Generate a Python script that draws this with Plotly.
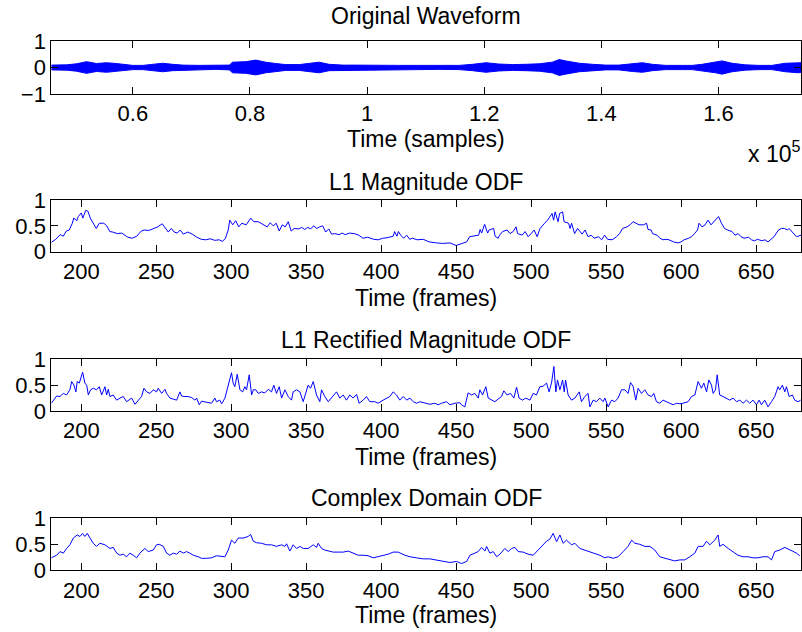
import plotly.graph_objects as go

# ---------------- data ----------------
# Waveform amplitude envelope (sample index, peak amplitude)
wave_pos = [46080, 48700, 50400, 52100, 53800, 55500, 57200, 58900, 60000, 61700,
            63400, 65100, 66800, 68500, 71300, 74200, 76500, 77000, 79300, 81000,
            82700, 84400, 86100, 88400, 90700, 91800, 93500, 95800, 98100, 100400,
            102700, 105500, 108900, 112300, 115700, 118000, 120300, 122500, 124800,
            127100, 129400, 131600, 132800, 133900, 136200, 138500, 140700, 143000,
            145300, 147000, 148700, 151000, 153800, 155500, 157200, 159500, 160600,
            162300, 164600, 166900, 169100, 171400, 173700, 174080]
wave_amp = [0.09, 0.10, 0.14, 0.22, 0.15, 0.18, 0.15, 0.10, 0.08, 0.08,
            0.12, 0.16, 0.12, 0.09, 0.08, 0.07, 0.09, 0.20, 0.22, 0.28,
            0.20, 0.15, 0.11, 0.11, 0.17, 0.20, 0.12, 0.09, 0.09, 0.08,
            0.08, 0.08, 0.08, 0.07, 0.08, 0.12, 0.18, 0.13, 0.11,
            0.12, 0.14, 0.20, 0.30, 0.25, 0.16, 0.12, 0.09, 0.09,
            0.15, 0.18, 0.12, 0.08, 0.08, 0.08, 0.12, 0.20, 0.25,
            0.16, 0.10, 0.08, 0.08, 0.16, 0.20, 0.18]

# L1 magnitude onset detection function
mag_frames = [180, 183, 186, 188, 190, 192, 194, 195, 197, 198, 200, 201, 203, 204.5, 206, 208, 210, 212,
              215, 217, 219, 221, 224, 227, 229, 231, 234, 237, 240, 242, 245, 248, 251, 254, 256, 258,
              260, 262, 264, 266, 268, 271, 274, 277, 280, 283, 286, 289, 292, 294, 296, 298, 299, 301,
              303, 305, 307, 310, 313, 315, 318, 322, 324, 326, 328, 330, 332, 334, 336, 338, 340, 342,
              345, 347, 349, 351, 353, 355, 357, 359, 361, 363, 365, 367, 369, 372, 374, 376, 379, 382,
              385, 388, 391, 395, 398, 401, 404, 408, 409, 410.5, 411.5,
              413, 415, 417, 419, 421, 424, 428, 432, 437, 441, 446, 450, 454, 457, 459, 462, 465, 466,
              467, 469, 471, 472, 475, 476, 478, 479, 481, 484, 486, 488, 490, 491, 494, 496, 498, 500,
              502, 504, 506, 509, 511, 514, 515, 516, 518, 519, 521, 522, 525, 526, 527, 529, 531, 534,
              536, 538, 540, 542, 545, 547, 549, 551, 554, 557, 559, 561, 564, 566, 568, 570, 572, 575,
              577, 578, 580, 581, 584, 586, 588, 590, 592, 595, 598, 600, 602, 605, 607, 609, 611, 612,
              614, 616, 618, 620, 622, 625, 627, 629, 631, 634, 636, 638, 640, 642, 645, 647, 649, 651,
              654, 656, 658, 660, 662, 665, 667, 669, 671, 672, 675, 677, 680]
mag_vals = [0.18, 0.24, 0.33, 0.30, 0.40, 0.42, 0.55, 0.65, 0.60, 0.68, 0.75, 0.65, 0.80, 0.78, 0.65, 0.55, 0.45, 0.55,
            0.55, 0.50, 0.39, 0.38, 0.35, 0.36, 0.32, 0.28, 0.26, 0.30, 0.40, 0.42, 0.41, 0.45, 0.48, 0.54, 0.46, 0.38,
            0.45, 0.38, 0.36, 0.42, 0.34, 0.38, 0.34, 0.28, 0.24, 0.23, 0.25, 0.22, 0.23, 0.20, 0.25, 0.42, 0.61, 0.52,
            0.60, 0.48, 0.55, 0.52, 0.65, 0.58, 0.58, 0.52, 0.48, 0.56, 0.50, 0.55, 0.40, 0.52, 0.48, 0.58, 0.40, 0.45,
            0.44, 0.47, 0.43, 0.47, 0.44, 0.50, 0.45, 0.48, 0.50, 0.38, 0.44, 0.34, 0.35, 0.33, 0.36, 0.33, 0.36, 0.35,
            0.32, 0.26, 0.28, 0.24, 0.23, 0.26, 0.27, 0.30, 0.39, 0.30, 0.39,
            0.32, 0.26, 0.32, 0.24, 0.26, 0.23, 0.24, 0.19, 0.17, 0.16, 0.17, 0.12, 0.16, 0.19, 0.29, 0.30, 0.32, 0.43,
            0.36, 0.53, 0.36, 0.42, 0.45, 0.30, 0.26, 0.32, 0.39, 0.42, 0.35, 0.39, 0.48, 0.35, 0.32, 0.39, 0.29, 0.35,
            0.42, 0.29, 0.45, 0.55, 0.61, 0.74, 0.61, 0.77, 0.58, 0.74, 0.77, 0.58, 0.55, 0.45, 0.55, 0.35, 0.45, 0.34,
            0.42, 0.29, 0.32, 0.26, 0.29, 0.23, 0.32, 0.24, 0.23, 0.29, 0.35, 0.45, 0.48, 0.52, 0.58, 0.55, 0.52, 0.52,
            0.55, 0.43, 0.42, 0.35, 0.32, 0.26, 0.23, 0.24, 0.23, 0.19, 0.17, 0.19, 0.23, 0.26, 0.29, 0.35, 0.42, 0.55,
            0.48, 0.52, 0.61, 0.52, 0.58, 0.68, 0.55, 0.45, 0.42, 0.39, 0.32, 0.35, 0.29, 0.26, 0.28, 0.23, 0.21, 0.24,
            0.21, 0.23, 0.19, 0.24, 0.29, 0.42, 0.45, 0.45, 0.42, 0.45, 0.35, 0.29, 0.32]

# L1 rectified magnitude onset detection function
rect_frames = [180, 181.8, 183.6, 185.8, 188, 190.2, 192.4, 193.6, 195.1, 196.4, 197.3, 198.7, 199.8, 200.9,
               202.4, 203.6, 204.7, 206.2, 208, 210.2, 212, 213.6, 215.8, 216.9, 218, 219.1, 221.3, 223.6,
               225.8, 228, 230.2, 232.4, 233.6, 235.8, 238, 240.2, 241.8, 243.6, 245.8, 248, 250.2, 251.3,
               253.6, 255.8, 256.9, 259.1, 261.3, 263.6, 265.8, 266.9, 269.1, 271.3, 273.6, 275.8, 276.9,
               278.7, 280.2, 282.4, 284.7, 286.9, 289.1, 290.2, 292.4, 293.6, 295.8, 298, 299.1, 300.2,
               301.3, 302.4, 304, 305.8, 307.6, 309.1, 310.2, 312, 313.6, 314.7, 316.4, 318, 320.2, 322.4,
               324.7, 326.9, 328.4, 330.2, 332, 333.6, 335.8, 338, 340.2, 341.3, 343.6, 345.8, 348, 349.8,
               351.3, 352.9, 354.7, 356.9, 359.1, 360.2, 362.4, 364.7, 366.9, 370.2, 372.4, 374.7, 376.9,
               379.1, 381.3, 383.6, 385.3, 388, 390.2, 392.4, 395.8, 398, 401.3, 403.6, 405.8, 408, 410.2,
               412.4, 414.7, 417, 419.2, 421.4, 423.6, 425.8, 429.2, 432.5, 435.8, 438, 440.3, 443.6, 445.8,
               449.2, 452.5, 453.6, 455.8, 458, 460.3, 462.5, 464.7, 465.8, 467.6, 469.8, 471.4, 473.6,
               475.8, 478, 480.3, 481.8, 484, 486.3, 488.5, 490.3, 492, 494.3, 496.5, 499.2, 501.4, 503.6,
               505.8, 508, 510.3, 512, 513.6, 515.2, 516.5, 517.6, 519.2, 521, 522.1, 523, 524.7, 527,
               529.2, 532.1, 533.6, 535.8, 538, 539.2, 541.4, 543.6, 545.8, 548, 549.2, 551.4, 553.6,
               555.8, 558, 560.3, 562.5, 564.7, 566.3, 568, 569.8, 571.4, 573.6, 575.8, 578, 580.3, 581.8,
               583.6, 585.8, 588, 590.3, 592.5, 594.7, 597, 599.2, 601.4, 604.7, 607, 609.2, 611.4, 613.6,
               615.2, 617, 618.5, 620.3, 621.4, 623, 624.1, 625.8, 628, 630.3, 632.5, 634.7, 637, 639.2,
               641.4, 643.6, 645.8, 648, 650.3, 652.1, 653.6, 655.8, 658, 660.3, 662.5, 664.7, 665.8,
               667.6, 669.2, 670.3, 672.1, 674.3, 675.8, 678, 679.8]
rect_vals = [0.15, 0.21, 0.29, 0.28, 0.34, 0.31, 0.41, 0.57, 0.50, 0.37, 0.57, 0.54, 0.66, 0.75,
             0.54, 0.50, 0.31, 0.41, 0.44, 0.41, 0.47, 0.31, 0.47, 0.31, 0.42, 0.28, 0.31, 0.21,
             0.25, 0.28, 0.18, 0.23, 0.25, 0.13, 0.21, 0.28, 0.44, 0.37, 0.34, 0.41, 0.37, 0.44,
             0.34, 0.42, 0.34, 0.25, 0.23, 0.21, 0.37, 0.29, 0.28, 0.28, 0.26, 0.21, 0.25,
             0.12, 0.19, 0.18, 0.16, 0.15, 0.25, 0.18, 0.21, 0.14, 0.25, 0.47, 0.60, 0.74,
             0.54, 0.47, 0.71, 0.41, 0.37, 0.47, 0.41, 0.70, 0.31, 0.41, 0.41, 0.34, 0.37, 0.35,
             0.42, 0.37, 0.50, 0.34, 0.47, 0.25, 0.41, 0.28, 0.21, 0.37, 0.41, 0.37, 0.18, 0.34,
             0.50, 0.44, 0.57, 0.31, 0.18, 0.41, 0.28, 0.18, 0.25, 0.37, 0.25, 0.31, 0.21,
             0.31, 0.25, 0.32, 0.15, 0.21, 0.28, 0.18, 0.18, 0.15, 0.21, 0.25, 0.28, 0.37, 0.31,
             0.21, 0.28, 0.21, 0.25, 0.18, 0.15, 0.18, 0.15, 0.13, 0.15, 0.12, 0.15, 0.18, 0.12,
             0.15, 0.16, 0.12, 0.08, 0.35, 0.31, 0.34, 0.25, 0.41, 0.31, 0.47, 0.25, 0.21,
             0.18, 0.23, 0.28, 0.39, 0.31, 0.34, 0.25, 0.46, 0.25, 0.21, 0.25, 0.21, 0.34, 0.31,
             0.47, 0.48, 0.54, 0.37, 0.54, 0.86, 0.37, 0.60, 0.41, 0.60, 0.37, 0.60, 0.31, 0.21,
             0.25, 0.37, 0.18, 0.28, 0.34, 0.08, 0.21, 0.18, 0.25, 0.18, 0.25, 0.08, 0.21,
             0.18, 0.25, 0.41, 0.41, 0.34, 0.55, 0.48, 0.21, 0.44, 0.34, 0.41, 0.31, 0.28, 0.34,
             0.18, 0.15, 0.21, 0.18, 0.15, 0.12, 0.15, 0.14, 0.15, 0.18, 0.28, 0.31, 0.57, 0.44,
             0.54, 0.37, 0.60, 0.50, 0.34, 0.41, 0.70, 0.31, 0.28, 0.25, 0.21, 0.25, 0.18, 0.21,
             0.15, 0.21, 0.15, 0.21, 0.12, 0.21, 0.12, 0.21, 0.08, 0.18, 0.28, 0.47, 0.41,
             0.50, 0.37, 0.47, 0.28, 0.31, 0.21, 0.18, 0.21]

# Complex domain onset detection function
cd_frames = [180, 183.6, 185.8, 188, 190.2, 192.4, 194.7, 197.3, 199.1, 200.9, 202.4, 204, 205.8, 208,
             210.2, 212.4, 215.8, 219.1, 221.3, 223.6, 225.8, 228, 230.2, 232.4, 234.7, 236.9, 239.1,
             242.4, 244.7, 248, 250.2, 252, 254.7, 256.9, 259.1, 261.3, 263.6, 265.8, 268, 270.2, 272.4,
             274.7, 278, 280.2, 283.6, 286.9, 290.2, 293.6, 295.8, 298, 300.2, 302.4, 304.7, 308, 311.3,
             312.9, 314.7, 316.9, 320.2, 323.6, 326.9, 330.2, 333.6, 335.8, 336.9, 339.1, 341.3, 343.6,
             345.8, 348, 351.3, 354.7, 356.9, 358, 360.2, 362.4, 365.8, 368, 371.3, 374.7, 378, 381.3,
             384.7, 388, 391.3, 394.7, 398, 401.3, 404.7, 408, 411.3,
             415.8, 419.2, 423.6, 428, 432.5, 436.9, 441.4, 445.8, 450.3, 453.6, 457, 459.2, 462.5, 464.7,
             467, 469.2, 470.3, 472.5, 474.7, 477, 479.2, 482.5, 484.7, 487, 489.2, 491.4, 494.7, 498,
             501.4, 504.7, 508, 510.3, 512.5, 514.7, 517, 519.2, 521.4, 523.6, 527, 529.2, 532.5, 535.8,
             539.2, 542.5, 545.8, 549.2, 551.4, 554.7, 558, 561.4, 564.7, 567, 569.2, 572.5, 575.8, 579.2,
             582.5, 585.8, 589.2, 592.5, 595.8, 599.2, 602.5, 605.8, 609.2, 611.4, 614.7, 617, 619.2,
             622.5, 624.7, 625.8, 628, 631.4, 634.7, 638, 641.4, 644.7, 648, 651.4, 654.7, 658, 660.3,
             662.5, 665.8, 669.2, 671.4, 674.7, 677, 679.2]
cd_vals = [0.24, 0.29, 0.36, 0.33, 0.42, 0.49, 0.62, 0.68, 0.65, 0.71, 0.65, 0.71, 0.62, 0.52,
           0.46, 0.52, 0.49, 0.42, 0.44, 0.33, 0.29, 0.31, 0.26, 0.33, 0.29, 0.24, 0.33,
           0.42, 0.36, 0.39, 0.49, 0.50, 0.46, 0.33, 0.29, 0.33, 0.31, 0.37, 0.33, 0.36, 0.33,
           0.29, 0.26, 0.23, 0.23, 0.24, 0.28, 0.26, 0.26, 0.39, 0.58, 0.52, 0.62, 0.62, 0.65,
           0.69, 0.56, 0.53, 0.52, 0.49, 0.49, 0.46, 0.49, 0.46, 0.51, 0.37, 0.49, 0.42,
           0.46, 0.42, 0.42, 0.49, 0.44, 0.52, 0.42, 0.39, 0.36, 0.35, 0.35, 0.35, 0.37, 0.33,
           0.29, 0.29, 0.28, 0.24, 0.26, 0.28, 0.31, 0.35, 0.35,
           0.29, 0.26, 0.24, 0.22, 0.22, 0.20, 0.18, 0.15, 0.17, 0.13, 0.17, 0.29, 0.33, 0.36,
           0.44, 0.37, 0.46, 0.33, 0.36, 0.26, 0.31, 0.42, 0.36, 0.42, 0.44, 0.36, 0.35, 0.31,
           0.29, 0.39, 0.49, 0.56, 0.60, 0.71, 0.55, 0.68, 0.52, 0.58, 0.49, 0.52, 0.42, 0.39,
           0.35, 0.33, 0.29, 0.24, 0.26, 0.23, 0.26, 0.36, 0.46, 0.58, 0.52, 0.50, 0.46, 0.46,
           0.39, 0.26, 0.23, 0.20, 0.18, 0.20, 0.20, 0.26, 0.33, 0.46, 0.46, 0.56, 0.49,
           0.58, 0.68, 0.46, 0.50, 0.42, 0.36, 0.29, 0.26, 0.26, 0.24, 0.24, 0.26, 0.26, 0.20,
           0.36, 0.39, 0.44, 0.41, 0.37, 0.33, 0.28]

frame_ticks = [200, 250, 300, 350, 400, 450, 500, 550, 600, 650]
sample_ticks = [60000, 80000, 100000, 120000, 140000, 160000]
sample_tick_text = ["0.6", "0.8", "1", "1.2", "1.4", "1.6"]
wave_yticks = [-1, 0, 1]
odf_yticks = [0, 0.5, 1]

frame_range = [180, 680]
sample_range = [46080, 174080]

# ---------------- figure ----------------
W, H = 802, 632
FONT = "Liberation Sans, Arial, Helvetica, sans-serif"
FS = 23
TICK_FS = 22
BLUE = "#0000ff"


def px_x(x):
    return x / W


def px_y(y):
    return 1 - y / H


x_dom = [px_x(51.3), px_x(801)]
panels = [  # (top px, bottom px)
    (41, 94),
    (200, 251.7),
    (359.3, 411),
    (518.3, 570.3),
]

fig = go.Figure()

# waveform as filled envelope
fig.add_trace(go.Scatter(
    x=wave_pos + wave_pos[::-1],
    y=wave_amp + [-a for a in wave_amp[::-1]],
    fill="toself", fillcolor=BLUE, mode="lines",
    line=dict(color=BLUE, width=1), xaxis="x", yaxis="y", hoverinfo="skip",
))

for i, (fx, fv) in enumerate([(mag_frames, mag_vals), (rect_frames, rect_vals), (cd_frames, cd_vals)], start=2):
    fig.add_trace(go.Scatter(x=fx, y=fv, mode="lines", line=dict(color=BLUE, width=1),
                             xaxis=f"x{i}", yaxis=f"y{i}"))

axis_common = dict(showline=True, linecolor="black", linewidth=1, mirror="ticks",
                   ticks="inside", ticklen=7, tickcolor="black", tickwidth=1,
                   showgrid=False, zeroline=False, automargin=False,
                   tickfont=dict(family=FONT, size=TICK_FS, color="black"))

layout = dict(
    width=W, height=H,
    margin=dict(l=0, r=0, t=0, b=0, pad=0, autoexpand=False),
    paper_bgcolor="white", plot_bgcolor="white", showlegend=False,
    font=dict(family=FONT, size=FS, color="black"),
)

for i, (top, bot) in enumerate(panels, start=1):
    sx = "" if i == 1 else str(i)
    ydom = [px_y(bot), px_y(top)]
    if i == 1:
        xa = dict(domain=x_dom, range=sample_range, tickvals=sample_ticks, ticktext=sample_tick_text,
                  anchor="y")
        ya = dict(domain=ydom, range=[-1, 1], tickvals=wave_yticks, ticktext=["\u22121", "0", "1"],
                  anchor="x")
    else:
        xa = dict(domain=x_dom, range=frame_range, tickvals=frame_ticks, anchor=f"y{i}")
        ya = dict(domain=ydom, range=[0, 1], tickvals=odf_yticks, ticktext=["0", "0.5", "1"],
                  anchor=f"x{i}")
    xa.update(axis_common)
    ya.update(axis_common)
    layout[f"xaxis{sx}"] = xa
    layout[f"yaxis{sx}"] = ya

fig.update_layout(**layout)

cx = px_x((51.3 + 801) / 2)
texts = [
    ("Original Waveform", 16),
    ("Time (samples)", 139),
    ("L1 Magnitude ODF", 182),
    ("Time (frames)", 298),
    ("L1 Rectified Magnitude ODF", 340),
    ("Time (frames)", 457),
    ("Complex Domain ODF", 498),
    ("Time (frames)", 615),
]
for t, y in texts:
    fig.add_annotation(text=t, x=cx, y=px_y(y), xref="paper", yref="paper",
                       xanchor="center", yanchor="middle", showarrow=False, borderpad=0,
                       font=dict(family=FONT, size=FS, color="black"))

fig.add_annotation(text="x 10<sup>5</sup>", x=px_x(801), y=px_y(152), xref="paper", yref="paper",
                   xanchor="right", yanchor="middle", showarrow=False, borderpad=0,
                   font=dict(family=FONT, size=FS, color="black"))

fig.write_html("out.html")
